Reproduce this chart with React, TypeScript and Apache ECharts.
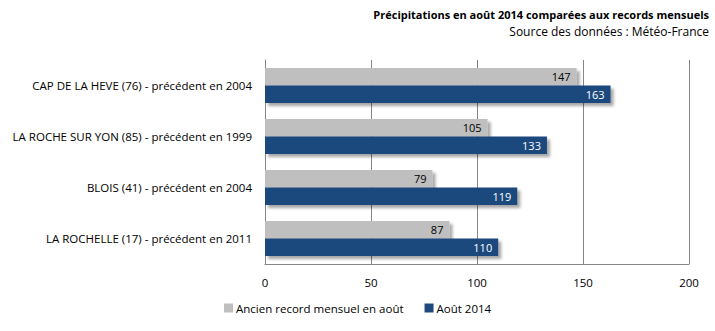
import React, { useEffect, useRef } from "react";
import * as echarts from "echarts";

const categories = [
  "CAP DE LA HEVE (76) - précédent en 2004",
  "LA ROCHE SUR YON (85) - précédent en 1999",
  "BLOIS (41) - précédent en 2004",
  "LA ROCHELLE (17) - précédent en 2011",
];
const ancienRecord = [147, 105, 79, 87];
const aout2014 = [163, 133, 119, 110];
const seriesNames = ["Ancien record mensuel en août", "Août 2014"];
const titleText = "Précipitations en août 2014 comparées aux records mensuels";
const subtitleText = "Source des données : Météo-France";

const FONT = "'Open Sans', 'Liberation Sans', sans-serif";

export default function App() {
  const ref = useRef<HTMLDivElement>(null);
  useEffect(() => {
    if (!ref.current) return;
    const chart = echarts.init(ref.current, null, { renderer: "svg" });
    const shadow = {
      shadowColor: "rgba(0,0,0,0.35)",
      shadowBlur: 3,
      shadowOffsetX: 3,
      shadowOffsetY: 3,
    };
    chart.setOption({
      animation: false,
      backgroundColor: "#ffffff",
      textStyle: { fontFamily: FONT },
      title: [
        {
          text: titleText,
          right: 1,
          top: 4,
          textStyle: { fontSize: 11, fontWeight: "bold", color: "#000", fontFamily: FONT },
        },
        {
          text: subtitleText,
          right: 1,
          top: 20,
          textStyle: { fontSize: 12, fontWeight: "normal", color: "#000", fontFamily: FONT },
        },
      ],
      legend: {
        bottom: 12,
        left: 219,
        itemWidth: 9,
        itemHeight: 9,
        itemGap: 21,
        icon: "rect",
        textStyle: { fontSize: 11.5, color: "#000", fontFamily: FONT, padding: [0, 0, 0, -2] },
        data: seriesNames,
      },
      grid: { left: 265, right: 26, top: 60, bottom: 67, containLabel: false },
      xAxis: {
        type: "value",
        min: 0,
        max: 200,
        interval: 50,
        axisLine: { show: true, lineStyle: { color: "#868686" } },
        axisTick: { show: false },
        splitLine: { show: true, lineStyle: { color: "#868686", width: 1 } },
        axisLabel: { fontSize: 11.5, color: "#000", margin: 12, fontFamily: FONT },
      },
      yAxis: {
        type: "category",
        inverse: true,
        data: categories,
        axisLine: { show: true, lineStyle: { color: "#868686" } },
        axisTick: { show: false },
        axisLabel: { fontSize: 11.5, color: "#000", margin: 13, fontFamily: FONT },
      },
      series: [
        {
          name: seriesNames[0],
          type: "bar",
          data: ancienRecord,
          barGap: "0%",
          barCategoryGap: "31%",
          itemStyle: { color: "#BFBFBF", ...shadow },
          label: {
            show: true,
            position: "insideRight",
            distance: 6,
            color: "#000",
            fontSize: 11,
            fontFamily: FONT,
          },
        },
        {
          name: seriesNames[1],
          type: "bar",
          data: aout2014,
          barGap: "0%",
          barCategoryGap: "31%",
          itemStyle: { color: "#1F497D", ...shadow },
          label: {
            show: true,
            position: "insideRight",
            distance: 6,
            color: "#fff",
            fontSize: 11,
            fontFamily: FONT,
          },
        },
      ],
    });
    return () => chart.dispose();
  }, []);
  return (
    <div
      ref={ref}
      style={{ position: "absolute", left: 0, top: 0, width: 715, height: 331 }}
    />
  );
}
